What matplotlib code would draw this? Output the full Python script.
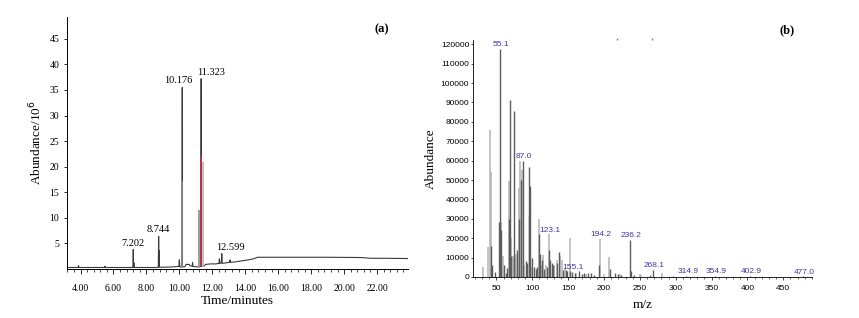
import matplotlib
matplotlib.use('Agg')
import matplotlib.pyplot as plt
from matplotlib.ticker import MultipleLocator, FormatStrFormatter

# chromatogram (a): retention time (min) vs abundance (x10^6)
tic_time = [3.18, 3.85, 3.88, 3.91, 5.45, 5.48, 5.51, 7.00, 7.18, 7.202, 7.22, 7.24, 7.26,
            8.00, 8.72, 8.744, 8.76, 8.775, 8.79, 9.50, 9.90, 9.97, 10.00, 10.03,
            10.16, 10.176, 10.19, 10.35, 10.40, 10.60, 10.65, 10.78, 10.80, 10.82,
            11.15, 11.30, 11.323, 11.345, 11.50, 11.60, 11.90, 12.20, 12.40, 12.43,
            12.46, 12.55, 12.575, 12.60, 12.80, 13.05, 13.08, 13.11, 13.40, 13.80,
            14.20, 14.50, 14.75, 15.50, 17.00, 19.00, 21.00, 21.60, 22.50, 23.88]
tic_abund = [0.30, 0.30, 0.65, 0.30, 0.30, 0.55, 0.30, 0.30, 0.30, 3.8, 0.40, 1.2, 0.30,
             0.30, 0.30, 6.4, 1.0, 3.6, 0.35, 0.40, 0.50, 0.50, 1.8, 0.40,
             0.40, 35.5, 0.45, 0.45, 0.90, 0.90, 0.60, 0.60, 1.3, 0.50,
             0.40, 0.50, 37.2, 0.50, 0.60, 0.90, 1.0, 1.0, 1.1, 2.0,
             1.1, 1.2, 3.0, 1.1, 1.2, 1.3, 1.8, 1.3, 1.4, 1.6,
             1.8, 2.0, 2.3, 2.3, 2.3, 2.3, 2.25, 2.1, 2.1, 2.05]
# co-eluting traces drawn over the main peaks
over_time = [10.14, 11.21, 11.30, 11.45]
over_abund = [17.2, 11.6, 22.0, 21.0]
over_color = ['#8a8a8a', '#8a8a8a', '#c8304e', '#b8b8b8']
peak_rt = [7.202, 8.744, 10.176, 11.323, 12.599]
peak_h = [3.8, 6.4, 35.5, 37.2, 3.0]
peak_dx = [0, 0, -3, 7, 6]

# mass spectrum (b): m/z vs abundance
ms_dark_mz = [42, 44, 48, 53, 55, 56, 60, 63, 65, 67, 69, 71, 74, 75, 79, 82, 84, 87, 91,
              93, 95, 96, 97, 100, 102, 105, 107, 110, 111, 113, 117, 121, 124, 125, 127,
              129, 134, 137, 143, 147, 149, 153, 155, 159, 165, 169, 172, 178, 182, 186,
              193, 208, 216, 220, 224, 236, 237, 242, 264, 268, 296, 315, 355, 403, 477]
ms_dark_ab = [16000, 6000, 2500, 28500, 117500, 24000, 6000, 2000, 4500, 30000, 91500, 11000,
              85500, 10000, 14000, 30000, 50000, 60000, 8000, 7000, 32000, 56500, 47000,
              10000, 5000, 4000, 5000, 22000, 12000, 9000, 4000, 5000, 14000, 9000, 7000,
              6000, 7000, 13000, 3500, 3500, 3000, 3000, 2500, 2000, 3000, 1500, 2000, 2000,
              2000, 1200, 6000, 4000, 2000, 1500, 1000, 19000, 3000, 800, 800, 3500, 500,
              500, 500, 500, 400]
ms_light_mz = [31, 39, 41, 43, 57, 59, 67, 70, 73, 77, 81, 83, 86, 89, 99, 109, 112, 115,
               119, 123, 131, 135, 139, 141, 145, 152, 161, 175, 194, 200, 207, 222, 250,
               252, 281]
ms_light_ab = [5300, 15600, 75800, 54300, 28500, 11000, 49500, 20000, 11000, 12000, 45700,
               60000, 55000, 6000, 5000, 30000, 6000, 11500, 6000, 22000, 6000, 9000, 11000,
               9000, 4000, 20000, 2000, 1500, 19500, 1500, 10500, 1500, 1500, 1000, 2000]
ms_labels = ['55.1', '87.0', '123.1', '155.1', '194.2', '236.2', '268.1', '314.9', '354.9',
             '402.9', '477.0']
ms_label_mz = [55.1, 87.0, 123.1, 155.1, 194.2, 236.2, 268.1, 314.9, 354.9, 402.9, 477.0]
ms_label_ab = [117500, 60000, 22000, 2500, 19500, 19000, 3500, 500, 500, 500, 400]

serif = 'Liberation Serif'
sans = 'Liberation Sans'

fig = plt.figure(figsize=(8.59, 3.18), dpi=100)

# ---- panel (a)
ax1 = fig.add_axes([0.078, 0.154, 0.397, 0.793])
ax1.plot(tic_time, tic_abund, color='#3a3a3a', lw=0.8)
for t, h, c in zip(over_time, over_abund, over_color):
    ax1.vlines(t, 0.3, h, color=c, lw=1.2)
for t, h, dx in zip(peak_rt, peak_h, peak_dx):
    ax1.annotate(f'{t:.3f}', (t, h), xytext=(dx, 1.5), textcoords='offset points',
                 ha='center', va='bottom', fontsize=7.5, family=serif)
ax1.set_xlim(3.18, 23.88)
ax1.set_ylim(0, 49.3)
ax1.xaxis.set_major_locator(MultipleLocator(2))
ax1.xaxis.set_minor_locator(MultipleLocator(0.4))
ax1.xaxis.set_major_formatter(FormatStrFormatter('%.2f'))
ax1.set_yticks([5, 10, 15, 20, 25, 30, 35, 40, 45])
ax1.tick_params(axis='x', which='major', length=3.5, width=0.6, pad=7, labelsize=7)
ax1.tick_params(axis='x', which='minor', length=2, width=0.5)
ax1.tick_params(axis='y', length=2.5, width=0.6, pad=3, labelsize=7)
for lab in ax1.get_xticklabels() + ax1.get_yticklabels():
    lab.set_family(serif)
for s in ['top', 'right']:
    ax1.spines[s].set_visible(False)
for s in ['left', 'bottom']:
    ax1.spines[s].set_linewidth(0.7)
ax1.set_xlabel('Time/minutes', family=serif, fontsize=9.5, labelpad=2)
ax1.set_ylabel('Abundance/10$^6$', family=serif, fontsize=9.5, labelpad=4)
ax1.text(0.924, 0.95, '(a)', transform=ax1.transAxes, ha='center', va='center',
         family=serif, fontsize=9, fontweight='bold')

# ---- panel (b)
ax2 = fig.add_axes([0.5503, 0.129, 0.395, 0.745])
ax2.vlines(ms_light_mz, 0, ms_light_ab, color='#b4b4b4', lw=1.1)
ax2.vlines(ms_dark_mz, 0, ms_dark_ab, color='#5c5c5c', lw=1.0)
for txt, mz, ab in zip(ms_labels, ms_label_mz, ms_label_ab):
    ax2.annotate(txt, (mz, ab), xytext=(1, 0.5), textcoords='offset points',
                 ha='center', va='bottom', fontsize=6, family=sans, color='#3a3aa8')
ax2.plot([217.6, 266.8], [122600, 122600], ls='none', marker='|', ms=1.5,
         color='#888888', clip_on=False)
ax2.set_xlim(17, 490)
ax2.set_ylim(0, 122200)
ax2.xaxis.set_major_locator(MultipleLocator(50))
ax2.xaxis.set_minor_locator(MultipleLocator(10))
ax2.yaxis.set_major_locator(MultipleLocator(10000))
ax2.tick_params(axis='x', which='major', length=2.5, width=0.5, pad=3, labelsize=6)
ax2.tick_params(axis='x', which='minor', length=1.5, width=0.4)
ax2.tick_params(axis='y', length=1.5, width=0.5, pad=1, labelsize=6)
for lab in ax2.get_xticklabels() + ax2.get_yticklabels():
    lab.set_family(sans)
for s in ['top', 'right']:
    ax2.spines[s].set_visible(False)
for s in ['left', 'bottom']:
    ax2.spines[s].set_linewidth(0.6)
ax2.set_xlabel('m/z', family=serif, fontsize=9.5, labelpad=5)
ax2.set_ylabel('Abundance', family=serif, fontsize=9.5, labelpad=3)
ax2.text(0.925, 1.042, '(b)', transform=ax2.transAxes, ha='center', va='center',
         family=serif, fontsize=9, fontweight='bold')

fig.savefig('out.png', dpi=100)
